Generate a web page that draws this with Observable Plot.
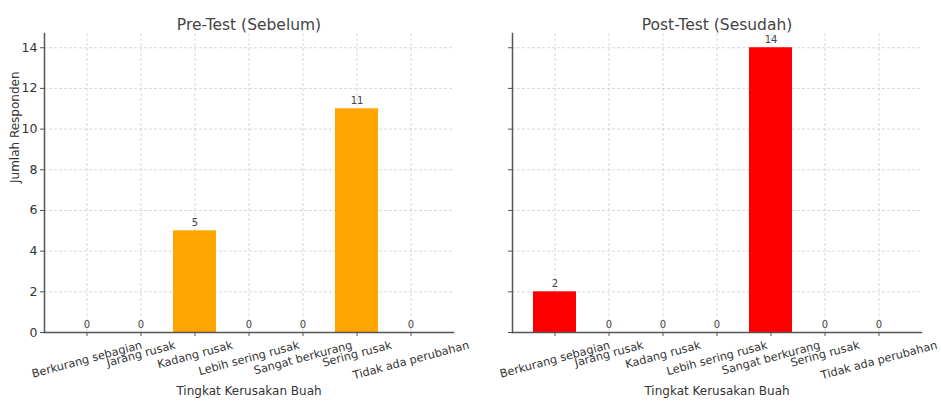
<!DOCTYPE html>
<html>
<head>
<meta charset="utf-8">
<script src="https://cdn.jsdelivr.net/npm/d3@7"></script>
<script src="https://cdn.jsdelivr.net/npm/@observablehq/plot@0.6"></script>
<style>
  body { margin: 0; background: #fff; font-family: "DejaVu Sans", sans-serif; }
  #wrap { display: flex; flex-direction: row; width: 941px; height: 401px; }
  svg { display: block; }
</style>
</head>
<body>
<div id="wrap"></div>
<script>
const categories = ["Berkurang sebagian", "Jarang rusak", "Kadang rusak", "Lebih sering rusak", "Sangat berkurang", "Sering rusak", "Tidak ada perubahan"];
const preValues = [0, 0, 5, 0, 0, 11, 0];
const postValues = [2, 0, 0, 0, 14, 0, 0];
const yTicks = [0, 2, 4, 6, 8, 10, 12, 14];
const titles = ["Pre-Test (Sebelum)", "Post-Test (Sesudah)"];
const xLabel = "Tingkat Kerusakan Buah";
const yLabel = "Jumlah Responden";

const FONT = "DejaVu Sans";
const tickFS = 11.3;
const ctx = document.createElement("canvas").getContext("2d");
ctx.font = `${tickFS}px "${FONT}"`;
const ang = 15 * Math.PI / 180;
function halfH(s) {
  const w = ctx.measureText(s).width;
  const h = tickFS * 1.15;
  return (w * Math.sin(ang) + h * Math.cos(ang)) / 2;
}

function panel(values, title, color, opts) {
  const data = categories.map((c, i) => ({cat: c, v: values[i]}));
  const labelMarks = categories.map(c => Plot.text([c], {
    x: d => d, frameAnchor: "bottom", text: d => d, rotate: -15,
    textAnchor: "middle", lineAnchor: "middle", dy: 6 + halfH(c),
    fontSize: tickFS, fill: "#333"
  }));
  return Plot.plot({
    width: opts.width, height: 401,
    marginTop: 33, marginBottom: 69, marginLeft: opts.ml, marginRight: opts.mr,
    style: {fontFamily: FONT, background: "#fff", color: "#333"},
    x: {domain: categories, paddingInner: 0.2, paddingOuter: 0.35, label: null},
    y: {domain: [0, 14.7], label: null},
    marks: [
      Plot.gridY(yTicks, {stroke: "#c8c8c8", strokeOpacity: 1, strokeDasharray: "3,2", strokeWidth: 0.7}),
      Plot.gridX(categories, {stroke: "#c8c8c8", strokeOpacity: 1, strokeDasharray: "3,2", strokeWidth: 0.7}),
      Plot.barY(data, {x: "cat", y: "v", fill: color}),
      Plot.axisY({ticks: yTicks, tickSize: 4, tickPadding: 3, fontSize: 12.5, stroke: "#555",
        tickFormat: opts.showY ? d => d : () => "", label: null}),
      Plot.axisX({tickSize: 4, stroke: "#555", tickFormat: () => "", label: null}),
      ...labelMarks,
      Plot.frame({anchor: "left", stroke: "#555", strokeWidth: 1.5}),
      Plot.frame({anchor: "bottom", stroke: "#555", strokeWidth: 1.5}),
      Plot.text(data, {x: "cat", y: "v", text: d => String(d.v), dy: -8, fontSize: 10, fill: "#444"}),
      Plot.text([title], {frameAnchor: "top", dy: -15, fontSize: 15.5, fill: "#444", text: d => d}),
      Plot.text([xLabel], {frameAnchor: "bottom", dy: 62, fontSize: 12, fill: "#333", text: d => d}),
      ...(opts.showY ? [Plot.text([yLabel], {frameAnchor: "left", dx: -29, rotate: -90, fontSize: 12, fill: "#333", text: d => d})] : [])
    ]
  });
}

const wrap = document.getElementById("wrap");
wrap.appendChild(panel(preValues, titles[0], "#FFA500", {width: 470, ml: 44, mr: 17, showY: true}));
wrap.appendChild(panel(postValues, titles[1], "#FF0000", {width: 471, ml: 42, mr: 20, showY: false}));
</script>
</body>
</html>
